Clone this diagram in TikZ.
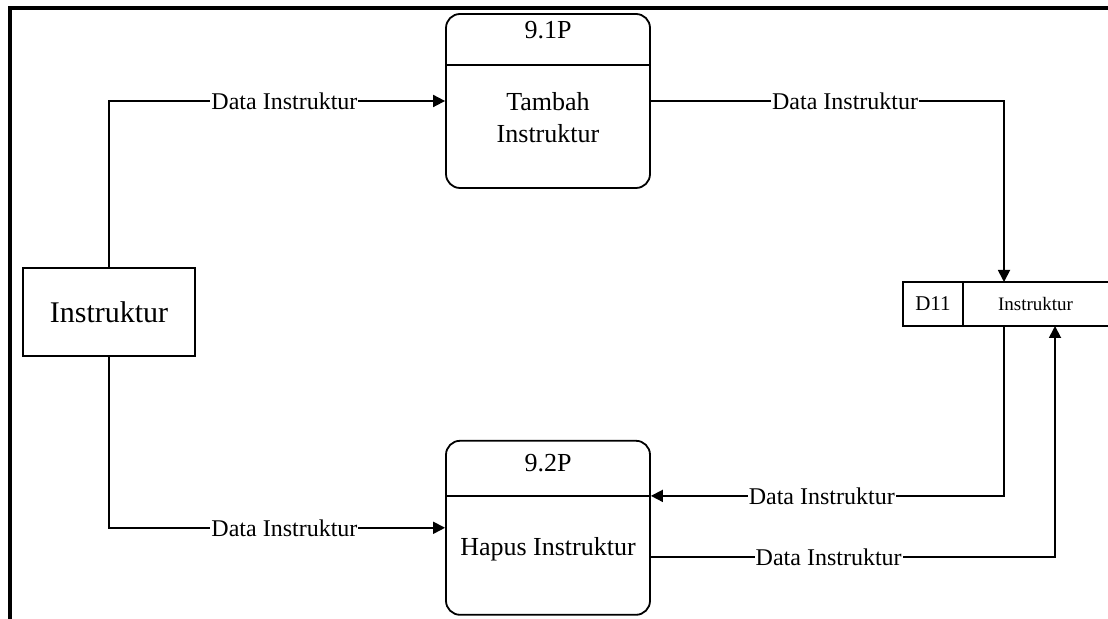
\documentclass[tikz,border=0pt]{standalone}
\usepackage{fontspec}
\setmainfont{Liberation Serif}
\usetikzlibrary{positioning, arrows.meta}

\begin{document}
\begin{tikzpicture}[
  x=0.5pt, y=-0.5pt,
  entity/.style={rectangle, draw, line width=0.9pt, minimum width=86pt, minimum height=44pt, font=\fontsize{15}{18}\selectfont},
  proc/.style={rectangle, rounded corners=7pt, draw, line width=0.9pt, minimum width=102pt, minimum height=87pt},
  ptitle/.style={font=\fontsize{13}{16}\selectfont, inner sep=0pt},
  pbody/.style={align=center, font=\fontsize{13}{16}\selectfont, inner sep=0pt},
  storeid/.style={rectangle, draw, line width=0.9pt, outer sep=0pt, minimum width=30pt, minimum height=22pt, font=\fontsize{10.5}{12}\selectfont},
  storename/.style={rectangle, outer sep=0pt, minimum width=72.5pt, minimum height=22pt, font=\fontsize{9.5}{11}\selectfont},
  lbl/.style={fill=white, inner sep=0.5pt, font=\fontsize{12}{14}\selectfont},
  arr/.style={-{Triangle[length=6pt, width=6pt]}, line width=0.9pt},
  frame/.style={line width=1.8pt}
]
\useasboundingbox (0,0) rectangle (1108,619);
\draw[frame] (10,619) -- (10,8) -- (1108,8);
\node[entity] (ent) at (109,312) {Instruktur};
\node[proc] (p1) at (548,101) {};
\node[ptitle] (p1id) at ([yshift=-8.5pt]p1.north) {9.1P};
\draw[line width=0.9pt] ([yshift=-26pt]p1.north west) -- ([yshift=-26pt]p1.north east);
\node[pbody] (p1name) at ([yshift=-8.5pt]p1.center) {Tambah\\Instruktur};
\node[proc, below=125.5pt of p1] (p2) {};
\node[ptitle] (p2id) at ([yshift=-11.5pt]p2.north) {9.2P};
\draw[line width=0.9pt] ([yshift=-28pt]p2.north west) coordinate (p2dw) -- ([yshift=-28pt]p2.north east) coordinate (p2de);
\node[pbody, anchor=base] (p2name) at ([yshift=-13.75pt]p2.center) {Hapus Instruktur};
\node[storeid] (ds) at (933,304) {D11};
\node[storename, right=0pt of ds] (store) {Instruktur};
\draw[line width=0.9pt] (ds.north east) -- (ds.north east -| store.east);
\draw[line width=0.9pt] (ds.south east) -- (ds.south east -| store.east);
\draw[arr] (ent.north) |- node[lbl, pos=0.761] {Data Instruktur} (p1.west);
\draw[arr] (ent.south) |- node[lbl, pos=0.761] {Data Instruktur} (p2.west);
\draw[arr] (p1.east) -| node[lbl, pos=0.275] {Data Instruktur} ([xshift=20.5pt]ds.north east);
\draw[arr] ([xshift=20.5pt]ds.south east) |- node[lbl, pos=0.758] {Data Instruktur} (p2de);
\draw[arr] ([yshift=-14.75pt]p2.east) -| node[lbl, pos=0.22] {Data Instruktur} ([xshift=46pt]ds.south east);
\end{tikzpicture}
\end{document}
